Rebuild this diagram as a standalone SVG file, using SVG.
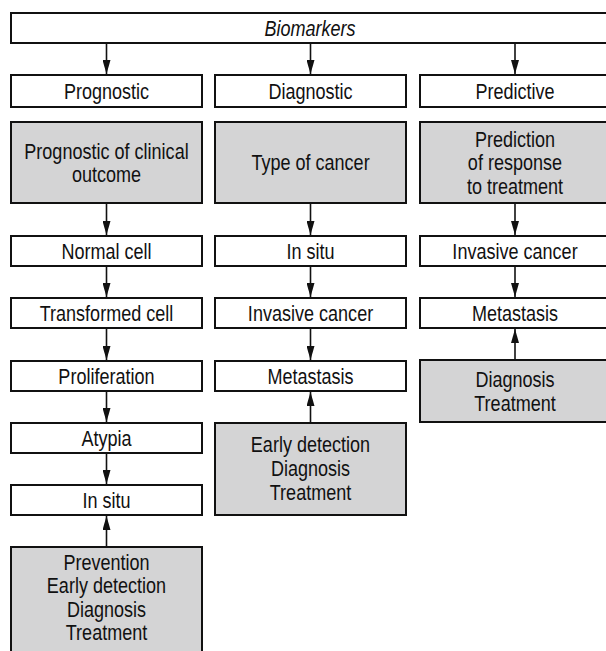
<svg xmlns="http://www.w3.org/2000/svg" width="606" height="651" viewBox="0 0 606 651">
<defs>
<marker id="ah" viewBox="0 0 14 8" refX="14" refY="4" markerWidth="14" markerHeight="8" markerUnits="userSpaceOnUse" orient="auto">
<path d="M0,0 L14,4 L0,8 z" fill="#111"/>
</marker>
<style>
.b{fill:#fff;stroke:#111;stroke-width:2}
.g{fill:#d4d4d5;stroke:#111;stroke-width:2}
text{font-family:"Liberation Sans Narrow","Arial Narrow","Liberation Sans",Arial,sans-serif;font-size:22px;fill:#111;text-anchor:middle;transform-box:fill-box;transform-origin:center;transform:scaleX(0.82)}
.c line{stroke:#111;stroke-width:1.6;marker-end:url(#ah)}
</style>
</defs>
<rect width="606" height="651" fill="#fff"/>
<g id="biomarkers"><rect class="b" x="11" y="13" width="602" height="30"/><text x="310" y="36" font-style="italic">Biomarkers</text></g>
<g id="prognostic"><rect class="b" x="11" y="75" width="191" height="32"/><text x="106.5" y="99">Prognostic</text></g>
<g id="diagnostic"><rect class="b" x="215" y="75" width="191" height="32"/><text x="310.5" y="99">Diagnostic</text></g>
<g id="predictive"><rect class="b" x="420" y="75" width="193" height="32"/><text x="515" y="99">Predictive</text></g>
<g id="prog-outcome"><rect class="g" x="11" y="122" width="191" height="81"/><text x="106.5" y="158.6">Prognostic of clinical</text><text x="106.5" y="182.1">outcome</text></g>
<g id="type-cancer"><rect class="g" x="215" y="122" width="191" height="81"/><text x="310.5" y="170.4">Type of cancer</text></g>
<g id="prediction"><rect class="g" x="420" y="122" width="193" height="81"/><text x="515" y="146.9">Prediction</text><text x="515" y="170.4">of response</text><text x="515" y="193.9">to treatment</text></g>
<g id="normal-cell"><rect class="b" x="11" y="236" width="191" height="30"/><text x="106.5" y="259">Normal cell</text></g>
<g id="transformed-cell"><rect class="b" x="11" y="298" width="191" height="30"/><text x="106.5" y="321">Transformed cell</text></g>
<g id="proliferation"><rect class="b" x="11" y="361" width="191" height="30"/><text x="106.5" y="384">Proliferation</text></g>
<g id="atypia"><rect class="b" x="11" y="423" width="191" height="30"/><text x="106.5" y="446">Atypia</text></g>
<g id="in-situ-1"><rect class="b" x="11" y="485" width="191" height="30"/><text x="106.5" y="508">In situ</text></g>
<g id="prevention"><rect class="g" x="11" y="547" width="191" height="110"/><text x="106.5" y="570">Prevention</text><text x="106.5" y="593.3">Early detection</text><text x="106.5" y="616.6">Diagnosis</text><text x="106.5" y="640">Treatment</text></g>
<g id="in-situ-2"><rect class="b" x="215" y="236" width="191" height="30"/><text x="310.5" y="259">In situ</text></g>
<g id="invasive-2"><rect class="b" x="215" y="298" width="191" height="30"/><text x="310.5" y="321">Invasive cancer</text></g>
<g id="metastasis-2"><rect class="b" x="215" y="361" width="191" height="30"/><text x="310.5" y="384">Metastasis</text></g>
<g id="early-detection"><rect class="g" x="215" y="423" width="191" height="92"/><text x="310.5" y="452">Early detection</text><text x="310.5" y="476">Diagnosis</text><text x="310.5" y="500">Treatment</text></g>
<g id="invasive-3"><rect class="b" x="420" y="236" width="193" height="30"/><text x="515" y="259">Invasive cancer</text></g>
<g id="metastasis-3"><rect class="b" x="420" y="298" width="193" height="30"/><text x="515" y="321">Metastasis</text></g>
<g id="diag-treat"><rect class="g" x="420" y="360" width="193" height="62"/><text x="515" y="387">Diagnosis</text><text x="515" y="410.6">Treatment</text></g>
<g id="connectors" class="c">
<line x1="106.5" y1="44" x2="106.5" y2="74"/>
<line x1="310.5" y1="44" x2="310.5" y2="74"/>
<line x1="515" y1="44" x2="515" y2="74"/>
<line x1="106.5" y1="204" x2="106.5" y2="235"/>
<line x1="106.5" y1="267" x2="106.5" y2="297"/>
<line x1="106.5" y1="329" x2="106.5" y2="360"/>
<line x1="106.5" y1="392" x2="106.5" y2="422"/>
<line x1="106.5" y1="454" x2="106.5" y2="484"/>
<line x1="106.5" y1="546" x2="106.5" y2="516"/>
<line x1="310.5" y1="204" x2="310.5" y2="235"/>
<line x1="310.5" y1="267" x2="310.5" y2="297"/>
<line x1="310.5" y1="329" x2="310.5" y2="360"/>
<line x1="310.5" y1="422" x2="310.5" y2="392"/>
<line x1="515" y1="204" x2="515" y2="235"/>
<line x1="515" y1="267" x2="515" y2="297"/>
<line x1="515" y1="359" x2="515" y2="329"/>
</g>
</svg>
